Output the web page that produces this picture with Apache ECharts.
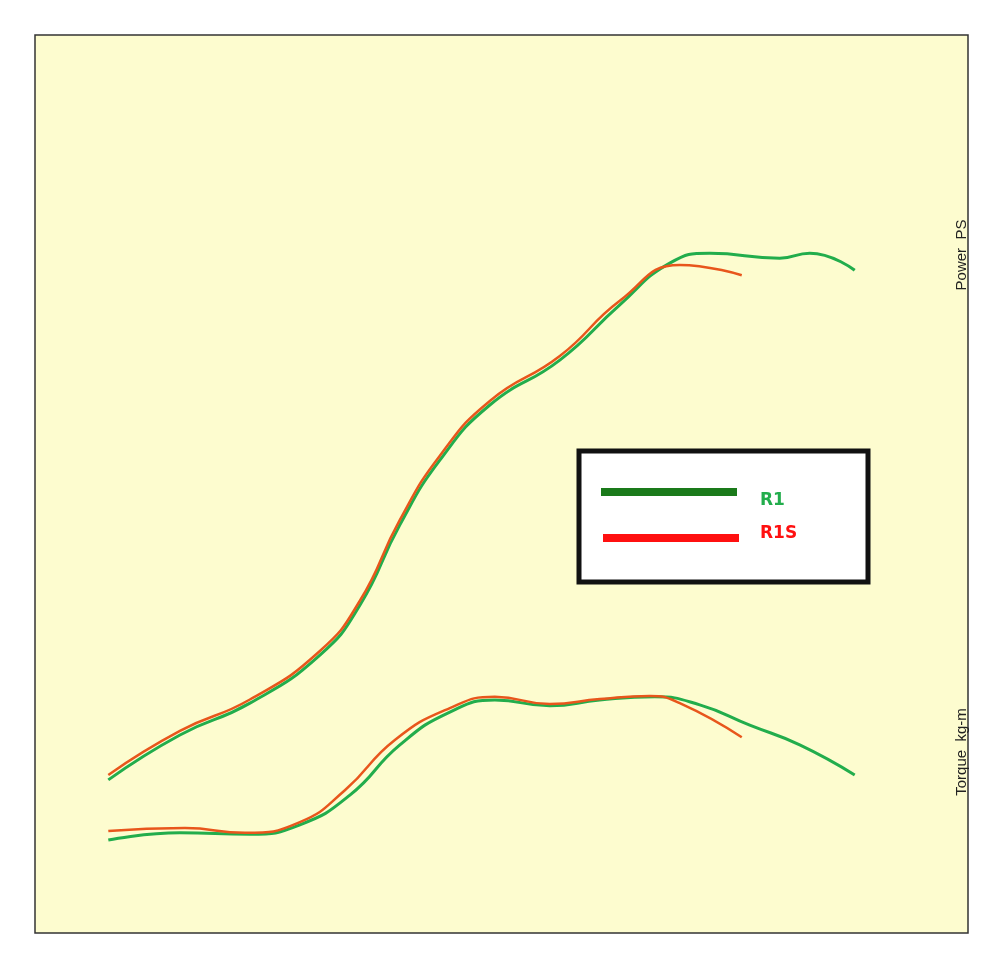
<!DOCTYPE html>
<html>
<head>
<meta charset="utf-8">
<script src="https://cdn.jsdelivr.net/npm/echarts@6/dist/echarts.min.js"></script>
<style>html,body{margin:0;padding:0;background:#fff}#main{width:1000px;height:969px}</style>
</head>
<body>
<div id="main"></div>
<script>
// rpm, value pairs
var powerR1 = [[1100,34.1],[2175,44.1],[3225,51.2],[4275,61.9],[4875,73.0],[5475,90.9],[6075,105.3],[6825,117.6],[7875,127.6],[8775,139.9],[9525,149.2],[10125,151.4],[11175,150.3],[11625,151.4],[12300,147.6]];
var powerR1S = [[1100,35.2],[2175,45.0],[3225,52.0],[4275,62.8],[4875,74.0],[5475,92.0],[6075,106.3],[6825,118.5],[7875,128.5],[8775,140.8],[9675,148.8],[10605,146.5]];
var torqueR1 = [[1100,20.7],[2175,22.3],[3225,22.0],[3975,24.1],[4725,30.7],[5475,41.9],[6225,49.2],[6900,51.9],[7725,50.6],[8475,51.9],[9300,52.6],[9975,50.8],[10725,46.3],[11475,41.9],[12300,35.2]];
var torqueR1S = [[1100,22.7],[2250,23.4],[3150,22.3],[3975,24.7],[4650,31.8],[5400,43.0],[6225,50.1],[6900,52.6],[7725,51.0],[8475,52.1],[9225,52.8],[9675,51.2],[10605,43.6]];

var chart = echarts.init(document.getElementById('main'));

var option = {
    animation: false,
    backgroundColor: '#ffffff',
    grid: {
        left: 35, right: 32, top: 35, bottom: 36,
        show: true,
        backgroundColor: '#fdfccf',
        borderColor: '#333',
        borderWidth: 1.5
    },
    xAxis: { type: 'value', min: 0, max: 14000, show: false },
    yAxis: { type: 'value', min: 0, max: 200, show: false },
    series: [
        { name: 'R1', type: 'line', smooth: 0.5, symbol: 'none', data: powerR1, lineStyle: { color: '#22ad4c', width: 3 }, z: 2 },
        { name: 'R1S', type: 'line', smooth: 0.5, symbol: 'none', data: powerR1S, lineStyle: { color: '#e8561c', width: 2.5 }, z: 3 },
        { name: 'R1', type: 'line', smooth: 0.5, symbol: 'none', data: torqueR1, lineStyle: { color: '#22ad4c', width: 3 }, z: 2 },
        { name: 'R1S', type: 'line', smooth: 0.5, symbol: 'none', data: torqueR1S, lineStyle: { color: '#e8561c', width: 2.5 }, z: 3 }
    ],
    graphic: [
        { type: 'text', x: 962, y: 255, rotation: Math.PI / 2, style: { text: 'Power  PS', fill: '#222', font: '15px "Liberation Sans"', align: 'center', verticalAlign: 'middle' } },
        { type: 'text', x: 962, y: 752, rotation: Math.PI / 2, style: { text: 'Torque  kg-m', fill: '#222', font: '15px "Liberation Sans"', align: 'center', verticalAlign: 'middle' } },
        { type: 'rect', shape: { x: 579, y: 451, width: 289, height: 131 }, style: { fill: '#ffffff', stroke: '#111', lineWidth: 5 }, z: 10 },
        { type: 'line', shape: { x1: 601, y1: 492, x2: 737, y2: 492 }, style: { stroke: '#1a7a1a', lineWidth: 8 }, z: 11 },
        { type: 'line', shape: { x1: 603, y1: 538, x2: 739, y2: 538 }, style: { stroke: '#ff1010', lineWidth: 8 }, z: 11 },
        { type: 'text', x: 760, y: 501, style: { text: 'R1', fill: '#22ad4c', font: 'bold 17px "DejaVu Sans"', verticalAlign: 'middle' }, z: 11 },
        { type: 'text', x: 760, y: 534, style: { text: 'R1S', fill: '#ff1010', font: 'bold 17px "DejaVu Sans"', verticalAlign: 'middle' }, z: 11 }
    ]
};

chart.setOption(option);
</script>
</body>
</html>
